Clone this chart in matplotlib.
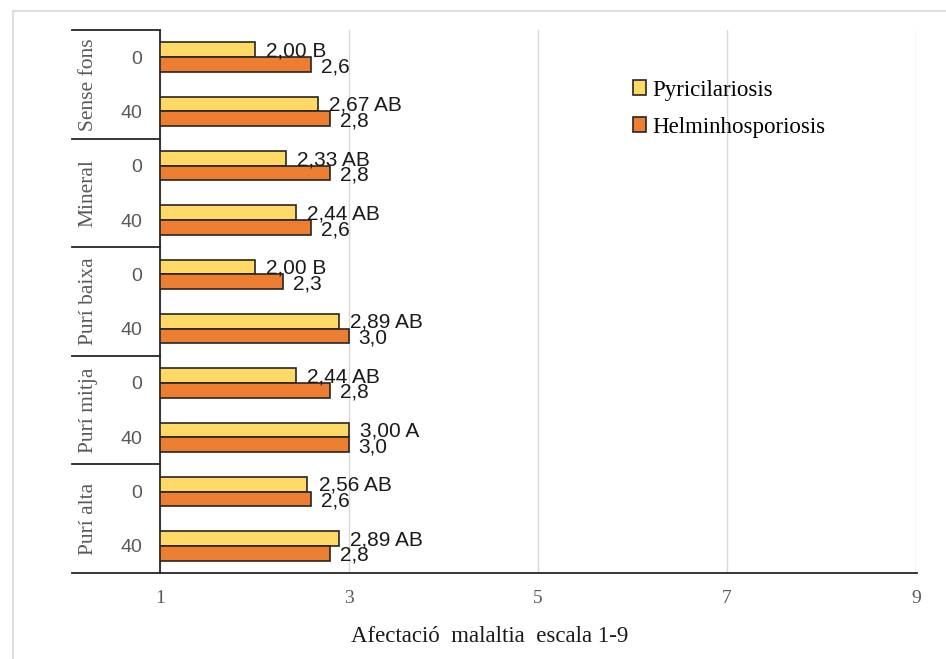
import matplotlib.pyplot as plt
from matplotlib.patches import Patch
from matplotlib.lines import Line2D

# Dades
grups = ['Sense fons', 'Mineral', 'Purí baixa', 'Purí mitja', 'Purí alta']
dosis = ['0', '40'] * 5
pyri = [2.00, 2.67, 2.33, 2.44, 2.00, 2.89, 2.44, 3.00, 2.56, 2.89]
pyri_lletres = ['B', 'AB', 'AB', 'AB', 'B', 'AB', 'AB', 'A', 'AB', 'AB']
helm = [2.6, 2.8, 2.8, 2.6, 2.3, 3.0, 2.8, 3.0, 2.6, 2.8]
xticks = [1, 3, 5, 7, 9]

groc = '#FFD966'
taronja = '#ED7D31'
serif = ['Liberation Serif', 'DejaVu Serif']
sans = ['Liberation Sans', 'DejaVu Sans']

W, H = 946, 659
fig = plt.figure(figsize=(W / 100, H / 100), dpi=100)
ax = fig.add_axes([160 / W, 1 - 573 / H, (916 - 160) / W, (573 - 30) / H])

# marc exterior
fig.add_artist(Line2D([13 / W, 13 / W], [0, 1 - 11 / H], color='#D9D9D9', lw=1.2))
fig.add_artist(Line2D([13 / W, 1], [1 - 11 / H, 1 - 11 / H], color='#D9D9D9', lw=1.2))

n = len(pyri)
pos = list(range(n))
h = 0.27
ax.barh([p - h / 2 for p in pos], [v - 1 for v in pyri], height=h, left=1,
        color=groc, edgecolor='#262626', linewidth=1.2, zorder=3)
ax.barh([p + h / 2 for p in pos], [v - 1 for v in helm], height=h, left=1,
        color=taronja, edgecolor='#262626', linewidth=1.2, zorder=3)

# etiquetes de les barres
for i in range(n):
    txt = f'{pyri[i]:.2f}'.replace('.', ',') + ' ' + pyri_lletres[i]
    ax.annotate(txt, (pyri[i], i - h / 2 + 0.02), xytext=(8, 0), textcoords='offset points',
                va='center', ha='left', fontsize=15, family=sans, color='#1a1a1a', zorder=4)
    ax.annotate(f'{helm[i]:.1f}'.replace('.', ','), (helm[i], i + h / 2 + 0.04), xytext=(7, 0),
                textcoords='offset points', va='center', ha='left', fontsize=15,
                family=sans, color='#1a1a1a', zorder=4)

ax.set_xlim(1, 9)
ax.set_ylim(n - 0.5, -0.5)
ax.set_xticks(xticks)
ax.set_xticklabels([str(t) for t in xticks], family=serif, fontsize=14, color='#595959')
ax.set_yticks(pos)
ax.set_yticklabels(dosis, fontsize=14, color='#595959', family=sans)
ax.tick_params(axis='both', length=0)
ax.tick_params(axis='y', pad=13)
ax.tick_params(axis='x', pad=12)
ax.grid(axis='x', color='#D9D9D9', lw=1, zorder=0)
ax.set_axisbelow(True)

for s in ['top', 'right']:
    ax.spines[s].set_visible(False)
ax.spines['left'].set_color('#262626')
ax.spines['left'].set_linewidth(1.3)
ax.spines['bottom'].set_visible(False)

# separadors dels grups
x0 = (72 - 160) / (916 - 160)
for k in range(len(grups) + 1):
    yk = -0.5 + 2 * k
    xe = 1.0015 if k == len(grups) else 0
    ax.plot([x0, xe], [yk, yk], transform=ax.get_yaxis_transform(), color='#262626',
            lw=1.3, clip_on=False, zorder=5)

xg = (88 - 160) / (916 - 160)
for k, g in enumerate(grups):
    ax.text(xg, 2 * k + 0.5, g, rotation=90, ha='center', va='center',
            transform=ax.get_yaxis_transform(), fontsize=15.5, family=serif, color='#595959')

fig.text(490 / W, 1 - 636 / H, 'Afectació  malaltia  escala 1-9', ha='center', va='center',
         fontsize=16.5, family=serif, color='#1a1a1a')

handles = [Patch(facecolor=groc, edgecolor='#262626', lw=1.2),
           Patch(facecolor=taronja, edgecolor='#262626', lw=1.2)]
fig.legend(handles, ['Pyricilariosis', 'Helminhosporiosis'], loc='upper left',
           bbox_to_anchor=(612 / W, 1 - 59 / H), frameon=False,
           prop={'family': serif, 'size': 16.5}, handlelength=0.6, handleheight=0.6,
           handletextpad=0.25, labelspacing=0.7)

fig.savefig('out.png', dpi=100)
